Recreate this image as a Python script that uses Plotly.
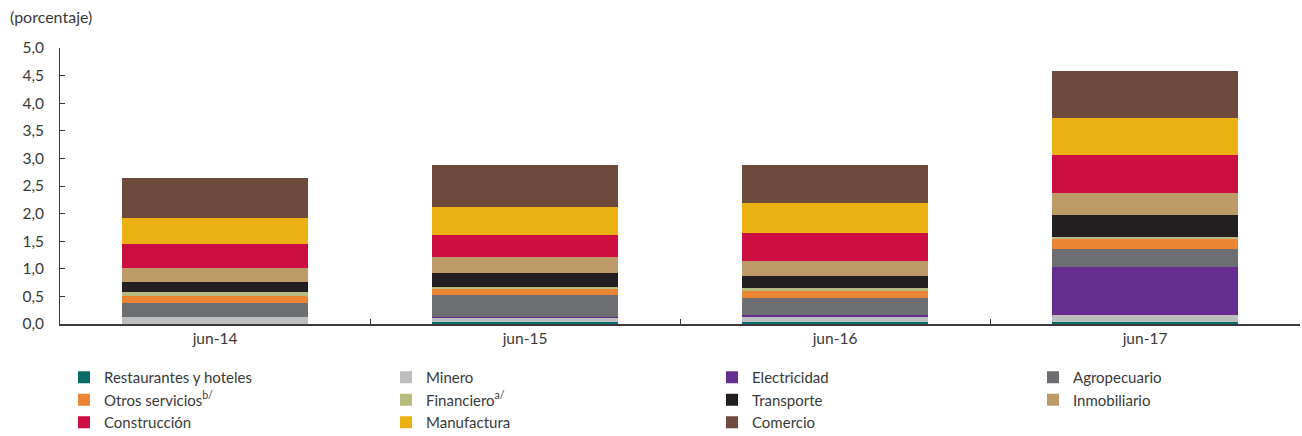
import plotly.graph_objects as go

categories = ["jun-14", "jun-15", "jun-16", "jun-17"]

series_names = [
    "Restaurantes y hoteles", "Minero", "Electricidad", "Agropecuario",
    "Otros servicios<sup>b/</sup>", "Financiero<sup>a/</sup>", "Transporte",
    "Inmobiliario", "Construcción", "Manufactura", "Comercio",
]

restaurantes = [0.00, 0.03, 0.03, 0.045]
minero = [0.13, 0.09, 0.11, 0.12]
electricidad = [0.00, 0.005, 0.025, 0.86]
agropecuario = [0.25, 0.405, 0.31, 0.335]
otros_servicios = [0.135, 0.10, 0.14, 0.19]
financiero = [0.065, 0.04, 0.03, 0.03]
transporte = [0.19, 0.25, 0.22, 0.39]
inmobiliario = [0.25, 0.29, 0.285, 0.40]
construccion = [0.43, 0.405, 0.50, 0.69]
manufactura = [0.47, 0.51, 0.535, 0.68]
comercio = [0.73, 0.755, 0.69, 0.835]

values = [restaurantes, minero, electricidad, agropecuario, otros_servicios,
          financiero, transporte, inmobiliario, construccion, manufactura, comercio]

colors = ["#0b6b6b", "#bcbec0", "#662d91", "#6d6e71", "#eb8533", "#b8bb80",
          "#231f20", "#bc9b68", "#cd0e41", "#ebb112", "#6d4a3c"]

legend_ids = ["legend", "legend2", "legend3", "legend4"]

FONT = "Lato"
TXT = "#3a3a3a"
W, H = 1302, 436

fig = go.Figure()
for i, (name, vals, col) in enumerate(zip(series_names, values, colors)):
    fig.add_trace(go.Bar(
        x=categories, y=vals, name=name,
        marker=dict(color=col, line=dict(width=0)),
        legend=legend_ids[i % 4],
        hovertemplate="%{x}: %{y:.2f}<extra>" + name + "</extra>",
    ))

leg_left_px = [64, 386, 712, 1033]
legend_common = dict(
    orientation="v", xref="container", yref="container",
    yanchor="top", y=1 - 361 / H, xanchor="left",
    traceorder="normal", bgcolor="rgba(0,0,0,0)", borderwidth=0,
    font=dict(family=FONT, size=15, color=TXT), tracegroupgap=0,
    itemclick=False, itemdoubleclick=False,
)

fig.update_layout(
    width=W, height=H,
    margin=dict(l=60, r=2, t=48, b=112, autoexpand=False),
    barmode="stack", bargap=0.4,
    plot_bgcolor="white", paper_bgcolor="white",
    separators=", ",
    font=dict(family=FONT, size=15, color=TXT),
    xaxis=dict(
        showline=True, linecolor="#3a3a3a", linewidth=1.5,
        ticks="inside", tickson="boundaries", ticklen=5, tickcolor="#3a3a3a",
        showgrid=False, automargin=False,
        tickfont=dict(family=FONT, size=15.5, color=TXT),
    ),
    yaxis=dict(
        range=[0, 5], dtick=0.5, tickformat=".1f",
        showline=True, linecolor="#3a3a3a", linewidth=1,
        ticks="inside", ticklen=5, tickcolor="#3a3a3a",
        showgrid=False, zeroline=False, ticklabelstandoff=12, automargin=False,
        tickfont=dict(family=FONT, size=15.5, color=TXT),
    ),
    annotations=[dict(
        text="(porcentaje)", xref="paper", yref="paper",
        x=-52 / 1240, y=1 + 31 / 276, xanchor="left", yanchor="middle",
        showarrow=False, font=dict(family=FONT, size=16, color=TXT),
    )],
    showlegend=True,
)
fig.update_layout(
    legend=dict(legend_common, x=leg_left_px[0] / W),
    legend2=dict(legend_common, x=leg_left_px[1] / W),
    legend3=dict(legend_common, x=leg_left_px[2] / W),
    legend4=dict(legend_common, x=leg_left_px[3] / W),
)

fig.write_html(
    "out.html",
    config={"displayModeBar": False},
    post_script="document.body.style.margin='0';document.body.style.overflow='hidden';",
)
